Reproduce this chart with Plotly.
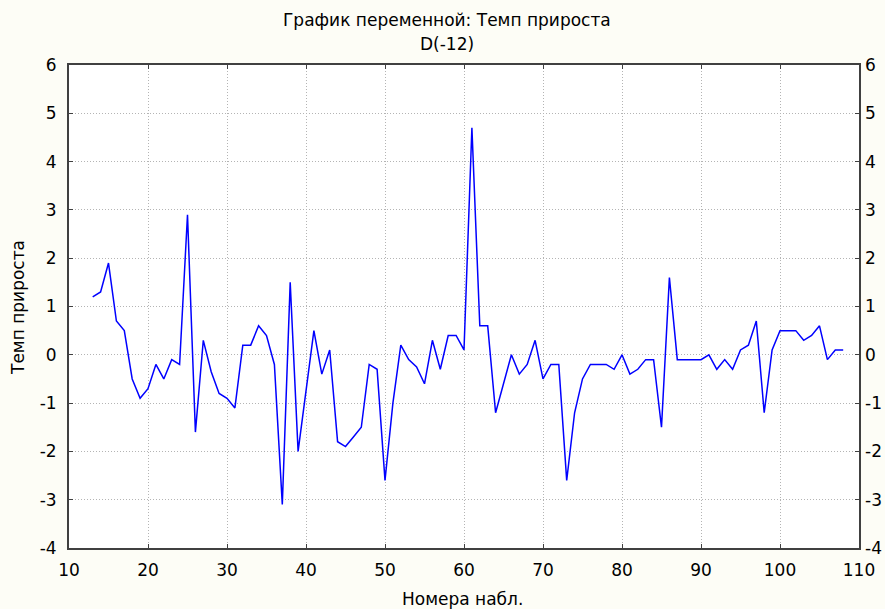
import plotly.graph_objects as go

x_obs = list(range(13, 109))
growth = [
    1.2, 1.3, 1.9, 0.7, 0.5, -0.5, -0.9, -0.7, -0.2, -0.5,   # 13-22
    -0.1, -0.2, 2.9, -1.6, 0.3, -0.35, -0.8, -0.9, -1.1, 0.2,  # 23-32
    0.2, 0.6, 0.4, -0.2, -3.1, 1.5, -2.0, -0.8, 0.5, -0.4,    # 33-42
    0.1, -1.8, -1.9, -1.7, -1.5, -0.2, -0.3, -2.6, -1.0, 0.2,  # 43-52
    -0.1, -0.25, -0.6, 0.3, -0.3, 0.4, 0.4, 0.1, 4.7, 0.6,    # 53-62
    0.6, -1.2, -0.6, 0.0, -0.4, -0.2, 0.3, -0.5, -0.2, -0.2,  # 63-72
    -2.6, -1.2, -0.5, -0.2, -0.2, -0.2, -0.3, 0.0, -0.4, -0.3, # 73-82
    -0.1, -0.1, -1.5, 1.6, -0.1, -0.1, -0.1, -0.1, 0.0, -0.3, # 83-92
    -0.1, -0.3, 0.1, 0.2, 0.7, -1.2, 0.1, 0.5, 0.5, 0.5,      # 93-102
    0.3, 0.4, 0.6, -0.1, 0.1, 0.1,                            # 103-108
]
x_ticks = [10, 20, 30, 40, 50, 60, 70, 80, 90, 100, 110]
x_tick_text = ["10", "20", "30", "40", "50", "60", "70", "80", "90", "100", "110"]
y_ticks = [-4, -3, -2, -1, 0, 1, 2, 3, 4, 5, 6]
y_tick_text = ["-4", "-3", "-2", "-1", "0", "1", "2", "3", "4", "5", "6"]

title_line1 = "График переменной: Темп прироста"
title_line2 = "D(-12)"
x_title = "Номера набл."
y_title = "Темп прироста"

FONT = "DejaVu Sans, Verdana, sans-serif"
FS = 17
TXT = dict(family=FONT, size=FS, color="#000000")
BG = "#FDFDF6"

# plot-area geometry in pixels
W, H = 885, 609
L, R, T, B = 69, 26, 65, 61
PW, PH = W - L - R, H - T - B


def px_to_paper_x(px):
    return (px - L) / PW


def px_to_paper_y(py):
    return (H - B - py) / PH


fig = go.Figure()
fig.add_trace(go.Scatter(
    x=x_obs, y=growth, mode="lines",
    line=dict(color="#0000FF", width=1.5),
    showlegend=False, hoverinfo="x+y",
))
# invisible trace for the right-hand axis
fig.add_trace(go.Scatter(
    x=[x_ticks[0]], y=[y_ticks[0]], yaxis="y2", mode="markers",
    marker=dict(opacity=0), showlegend=False, hoverinfo="skip",
))

axis_common = dict(
    showline=True, linecolor="#404040", linewidth=2,
    ticks="inside", ticklen=4, tickcolor="#404040", tickwidth=1,
    showgrid=True, gridcolor="#B4B4B4", griddash="1px,2px", gridwidth=1,
    zeroline=False, automargin=False,
    tickfont=TXT,
)

fig.update_layout(
    width=W, height=H,
    paper_bgcolor=BG, plot_bgcolor="#FFFFFF",
    margin=dict(l=L, r=R, t=T, b=B, autoexpand=False),
    xaxis=dict(range=[10, 110], tickvals=x_ticks, ticktext=x_tick_text,
               mirror="ticks", ticklabelstandoff=6, **axis_common),
    yaxis=dict(range=[-4, 6], tickvals=y_ticks, ticktext=y_tick_text,
               mirror=True, ticklabelstandoff=7, **axis_common),
    yaxis2=dict(range=[-4, 6], tickvals=y_ticks, ticktext=y_tick_text,
                overlaying="y", side="right",
                showline=False, ticks="inside", ticklen=4, tickcolor="#404040",
                showgrid=False, zeroline=False, automargin=False,
                ticklabelstandoff=5, tickfont=TXT),
    annotations=[
        dict(text=title_line1, xref="paper", yref="paper",
             x=px_to_paper_x(447), y=px_to_paper_y(20),
             xanchor="center", yanchor="middle", showarrow=False, font=TXT),
        dict(text=title_line2, xref="paper", yref="paper",
             x=px_to_paper_x(447), y=px_to_paper_y(44),
             xanchor="center", yanchor="middle", showarrow=False, font=TXT),
        dict(text=x_title, xref="paper", yref="paper",
             x=px_to_paper_x(462), y=px_to_paper_y(599),
             xanchor="center", yanchor="middle", showarrow=False, font=TXT),
        dict(text=y_title, xref="paper", yref="paper",
             x=px_to_paper_x(18), y=px_to_paper_y(308),
             xanchor="center", yanchor="middle", showarrow=False,
             textangle=-90, font=TXT),
    ],
)

fig.write_html(
    "out.html",
    config={"displayModeBar": False},
    post_script="document.body.style.margin='0px';"
                "document.body.style.background='" + BG + "';",
)
